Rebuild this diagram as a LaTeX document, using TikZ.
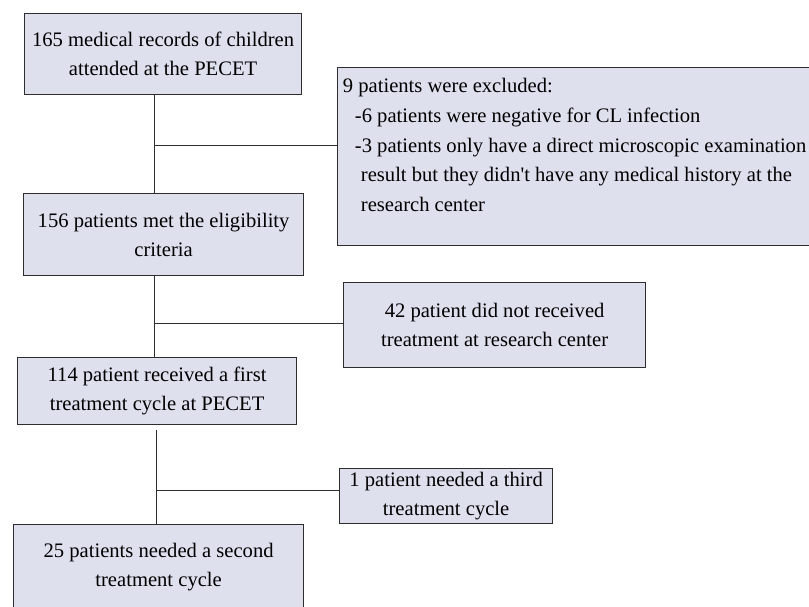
\documentclass[tikz,border=0pt]{standalone}
\usepackage{fontspec}
\setmainfont{Liberation Serif}[Ligatures=TeXOff]
\usepackage{xcolor}
\usepackage{tikz}
\usetikzlibrary{positioning, calc}
\definecolor{boxfill}{RGB}{222,224,238}
\definecolor{boxline}{RGB}{45,45,45}

\begin{document}
\begin{tikzpicture}[
    x=1pt, y=-1pt,
    stage/.style={draw=boxline, fill=boxfill, line width=1.2pt, anchor=north west, align=center, inner xsep=2pt, font=\fontsize{20.6}{29}\selectfont},
    side/.style={stage, align=left, inner xsep=1pt, font=\fontsize{20.6}{29.6}\selectfont},
    link/.style={draw=boxline, line width=0.9pt},
]
\useasboundingbox (0,0) rectangle (809,606);

\node[stage, minimum width=277pt, minimum height=81pt] (rec) at (24,13) {165 medical records of children\\attended at the PECET};
\node[side, minimum width=474pt, minimum height=178pt] (excl) at (337,67) {9 patients were excluded:\\\hspace*{12pt}-6 patients were negative for CL infection\\\hspace*{12pt}-3 patients only have a direct microscopic examination\\\hspace*{18pt}result but they didn't have any medical history at the\\\hspace*{18pt}research center\\[-15pt]\strut};
\node[stage, minimum width=280pt, minimum height=82pt] (elig) at (23,193) {156 patients met the eligibility\\criteria};
\node[stage, minimum width=302pt, minimum height=85pt] (notreat) at (343,282) {42 patient did not received\\treatment at research center};
\node[stage, minimum width=279pt, minimum height=67pt] (first) at (17,357) {114 patient received a first\\treatment cycle at PECET};
\node[stage, minimum width=213pt, minimum height=55pt] (third) at (339,468) {1 patient needed a third\\treatment cycle};
\node[stage, minimum width=290pt, minimum height=84pt] (second) at (13,524) {25 patients needed a second\\treatment cycle};

\coordinate (j1) at (154,145);
\coordinate (j2) at (154,323);
\coordinate (j3) at (156,490);

\draw[link] (rec.south -| j1) -- (elig.north -| j1);
\draw[link] (j1) -- (excl.west |- j1);
\draw[link] (elig.south -| j2) -- (first.north -| j2);
\draw[link] (j2) -- (notreat.west |- j2);
\draw[link] ($(first.south -| j3)+(0,5)$) -- (second.north -| j3);
\draw[link] (j3) -- (third.west |- j3);
\end{tikzpicture}
\end{document}
